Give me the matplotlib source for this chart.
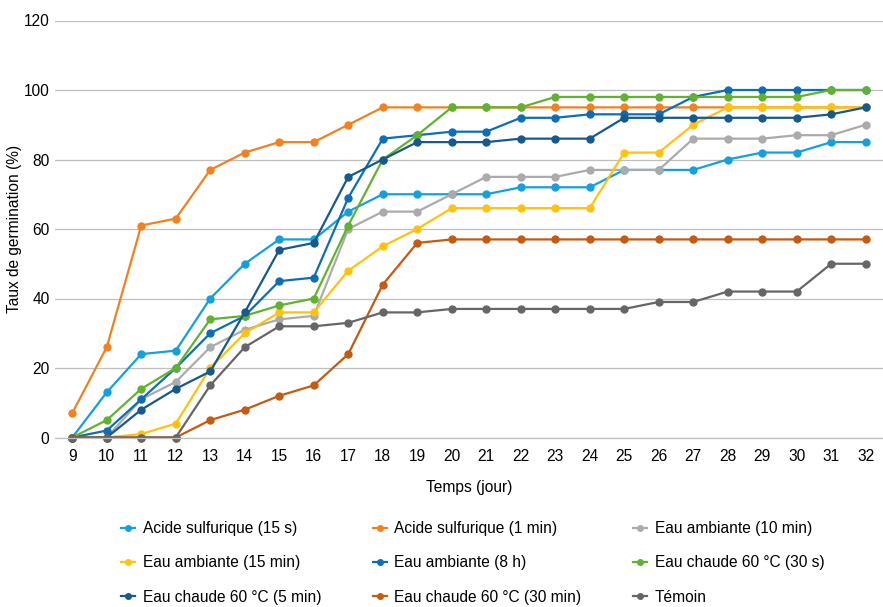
# Germination rate over time for each seed treatment
import matplotlib.pyplot as plt

plt.rcParams['font.family'] = ['Liberation Sans', 'DejaVu Sans']

days = list(range(9, 33))

acide_15s = [0, 13, 24, 25, 40, 50, 57, 57, 65, 70, 70, 70, 70, 72, 72, 72,
             77, 77, 77, 80, 82, 82, 85, 85]
acide_1min = [7, 26, 61, 63, 77, 82, 85, 85, 90, 95, 95, 95, 95, 95, 95, 95,
              95, 95, 95, 95, 95, 95, 95, 95]
ambiante_10min = [0, 0, 11, 16, 26, 31, 34, 35, 60, 65, 65, 70, 75, 75, 75, 77,
                  77, 77, 86, 86, 86, 87, 87, 90]
ambiante_15min = [0, 0, 1, 4, 20, 30, 36, 36, 48, 55, 60, 66, 66, 66, 66, 66,
                  82, 82, 90, 95, 95, 95, 95, 95]
ambiante_8h = [0, 2, 11, 20, 30, 35, 45, 46, 69, 86, 87, 88, 88, 92, 92, 93,
               93, 93, 98, 100, 100, 100, 100, 100]
chaude_30s = [0, 5, 14, 20, 34, 35, 38, 40, 61, 80, 87, 95, 95, 95, 98, 98,
              98, 98, 98, 98, 98, 98, 100, 100]
chaude_5min = [0, 0, 8, 14, 19, 36, 54, 56, 75, 80, 85, 85, 85, 86, 86, 86,
               92, 92, 92, 92, 92, 92, 93, 95]
chaude_30min = [0, 0, 0, 0, 5, 8, 12, 15, 24, 44, 56, 57, 57, 57, 57, 57,
                57, 57, 57, 57, 57, 57, 57, 57]
temoin = [0, 0, 0, 0, 15, 26, 32, 32, 33, 36, 36, 37, 37, 37, 37, 37,
          37, 39, 39, 42, 42, 42, 50, 50]

series = [
    ("Acide sulfurique (15 s)", acide_15s, '#14A0DC'),
    ("Acide sulfurique (1 min)", acide_1min, '#F28120'),
    ("Eau ambiante (10 min)", ambiante_10min, '#ABABAB'),
    ("Eau ambiante (15 min)", ambiante_15min, '#FFC20E'),
    ("Eau ambiante (8 h)", ambiante_8h, '#0D6EB8'),
    ("Eau chaude 60 °C (30 s)", chaude_30s, '#62B22F'),
    ("Eau chaude 60 °C (5 min)", chaude_5min, '#17598C'),
    ("Eau chaude 60 °C (30 min)", chaude_30min, '#C55A11'),
    ("Témoin", temoin, '#666666'),
]

fs = 11.2

fig = plt.figure(figsize=(8.83, 6.07), dpi=100)
ax = fig.add_axes([55 / 883, 1 - 437.5 / 607, 1 - 55 / 883, 417 / 607])

handles = []
for label, values, color in series:
    h, = ax.plot(days, values, color=color, linewidth=1.6, marker='o',
                 markersize=5, label=label, clip_on=False)
    handles.append(h)

ax.set_xlim(8.5, 32.5)
ax.set_ylim(0, 120)
ax.set_xticks(days)
ax.set_yticks(range(0, 121, 20))
ax.tick_params(axis='both', length=0, labelsize=fs, colors='black')
ax.tick_params(axis='x', pad=8)
ax.tick_params(axis='y', pad=4)

# horizontal grid only, Excel style
ax.grid(axis='y', color='#BFBFBF', linewidth=0.9)
ax.set_axisbelow(True)
for side in ['top', 'right', 'left']:
    ax.spines[side].set_visible(False)
ax.spines['bottom'].set_color('#BFBFBF')
ax.spines['bottom'].set_linewidth(0.9)

ax.set_xlabel('Temps (jour)', fontsize=fs, labelpad=12)
ax.set_ylabel('Taux de germination (%)', fontsize=fs, labelpad=1)

# legend reads row by row, matplotlib fills column by column
order = [0, 3, 6, 1, 4, 7, 2, 5, 8]
fig.legend([handles[i] for i in order], [handles[i].get_label() for i in order],
           ncol=3, loc='upper left', bbox_to_anchor=(121 / 883, 1 - 521 / 607),
           frameon=False, fontsize=fs, handlelength=0.9, handletextpad=0.5,
           columnspacing=3.3, labelspacing=1.25, borderpad=0, borderaxespad=0,
           markerscale=0.8)

plt.savefig('out.png', dpi=100)
plt.close()
